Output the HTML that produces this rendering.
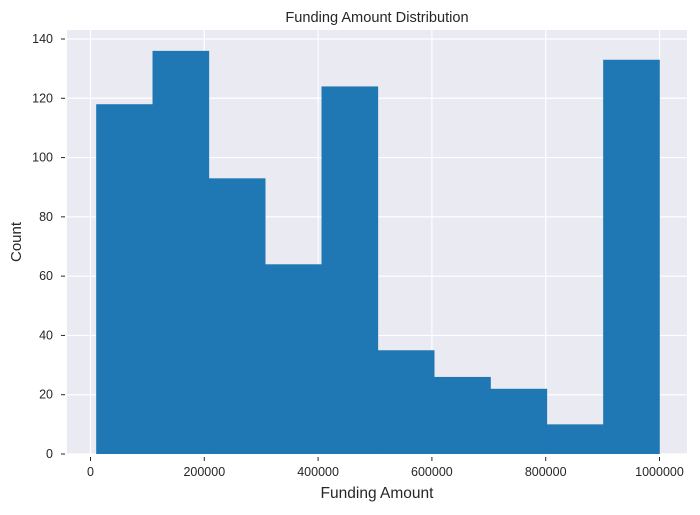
<!DOCTYPE html>
<html><head><meta charset="utf-8"><style>
body{margin:0;background:#fff;font-family:"Liberation Sans",sans-serif}
svg text{font-family:"Liberation Sans",sans-serif;fill:#262626}
</style></head><body>
<svg id="c" width="700" height="510">
<rect x="67" y="30" width="620" height="424" fill="#eaeaf2"/>
<g id="grid"></g><g id="bars"></g><g id="axes"></g>
<text x="377" y="22" text-anchor="middle" font-size="14.6">Funding Amount Distribution</text>
<text x="377" y="498" text-anchor="middle" font-size="15.5">Funding Amount</text>
<text x="21" y="242" text-anchor="middle" font-size="15" transform="rotate(-90 21 242)">Count</text>
</svg>
<script>
const binEdges=[10000,109000,208000,307000,406000,505000,604000,703000,802000,901000,1000000];
const counts=[118,136,93,64,124,35,26,22,10,133];
const xTicks=[0,200000,400000,600000,800000,1000000];
const yTicks=[0,20,40,60,80,100,120,140];
const NS="http://www.w3.org/2000/svg";
const xs=v=>90.5+(v/1e6)*569;
const ys=v=>454-v*(415/140);
const grid=document.getElementById('grid'),bars=document.getElementById('bars'),axes=document.getElementById('axes');
function mk(p,tag,a){const e=document.createElementNS(NS,tag);for(const k in a)e.setAttribute(k,a[k]);p.appendChild(e);return e;}
xTicks.forEach(t=>{
 const l=mk(grid,'line',{x1:xs(t),x2:xs(t),y1:30,y2:454,stroke:'#fff','stroke-width':1.2});
 
 
 const k=mk(axes,'line',{x1:xs(t),x2:xs(t),y1:457,y2:461,stroke:'#262626','stroke-width':1});
 
 
 const tx=mk(axes,'text',{x:xs(t),y:476,'text-anchor':'middle','font-size':12.5});
 tx.textContent=t;
 
 
});
yTicks.forEach(t=>{
 const l=mk(grid,'line',{x1:67,x2:687,y1:ys(t),y2:ys(t),stroke:'#fff','stroke-width':1.2});
 
 
 const k=mk(axes,'line',{x1:61,x2:65,y1:ys(t),y2:ys(t),stroke:'#262626','stroke-width':1});
 
 
 const tx=mk(axes,'text',{x:53,y:ys(t)+4,'text-anchor':'end','font-size':12.5});
 tx.textContent=t;
 
 
});
counts.forEach((c,i)=>{
 const x0=xs(binEdges[i]),x1=xs(binEdges[i+1]);
 const r=mk(bars,'rect',{x:x0,y:ys(c),width:x1-x0+0.3,height:ys(0)-ys(c),fill:'#1f77b4'});
 
 
});
</script>
</body></html>
